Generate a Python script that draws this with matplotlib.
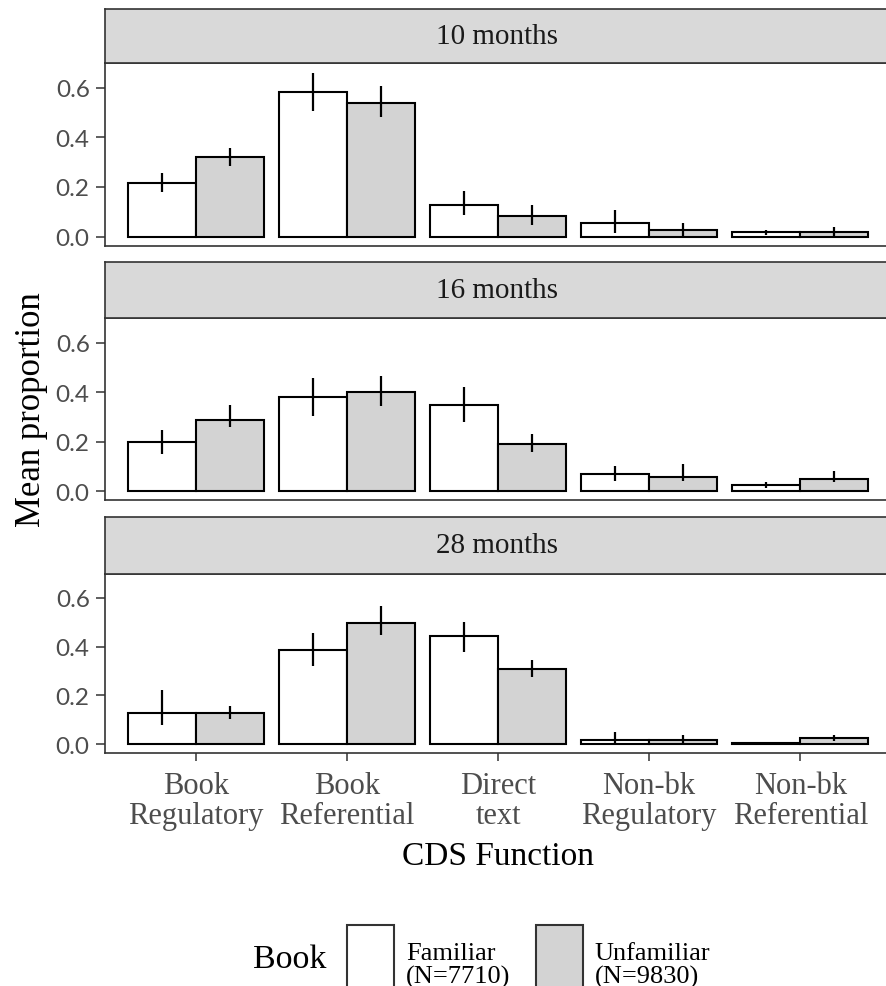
import matplotlib
matplotlib.use("Agg")
import matplotlib.pyplot as plt
from matplotlib.patches import Patch
import numpy as np

# ---- data -------------------------------------------------------------
ages = ["10 months", "16 months", "28 months"]
functions = ["Book\nRegulatory", "Book\nReferential", "Direct\ntext",
             "Non-bk\nRegulatory", "Non-bk\nReferential"]
book_labels = ["Familiar\n(N=7710)", "Unfamiliar\n(N=9830)"]

familiar_mean = [
    [0.218, 0.585, 0.126, 0.054, 0.017],
    [0.199, 0.383, 0.347, 0.070, 0.024],
    [0.126, 0.388, 0.444, 0.017, 0.005],
]
familiar_lo = [
    [0.178, 0.508, 0.088, 0.013, 0.006],
    [0.149, 0.306, 0.279, 0.039, 0.011],
    [0.079, 0.322, 0.378, 0.000, 0.002],
]
familiar_hi = [
    [0.257, 0.660, 0.183, 0.109, 0.028],
    [0.247, 0.458, 0.422, 0.101, 0.038],
    [0.221, 0.456, 0.501, 0.049, 0.008],
]
unfamiliar_mean = [
    [0.319, 0.539, 0.082, 0.025, 0.017],
    [0.290, 0.400, 0.190, 0.059, 0.051],
    [0.126, 0.497, 0.308, 0.017, 0.027],
]
unfamiliar_lo = [
    [0.286, 0.481, 0.048, 0.000, 0.000],
    [0.259, 0.344, 0.160, 0.040, 0.038],
    [0.104, 0.449, 0.277, 0.000, 0.015],
]
unfamiliar_hi = [
    [0.358, 0.606, 0.129, 0.055, 0.037],
    [0.350, 0.468, 0.230, 0.109, 0.083],
    [0.157, 0.566, 0.347, 0.039, 0.039],
]
y_ticks = [0.0, 0.2, 0.4, 0.6]

# ---- style ------------------------------------------------------------
SERIF = ["Liberation Serif", "DejaVu Serif"]
SANS = ["Lato", "DejaVu Sans"]
plt.rcParams["font.family"] = SERIF
BORDER = "#333333"
STRIP_FILL = "#D9D9D9"
TICK_TEXT = "#4D4D4D"
FILLS = ["white", "#D3D3D3"]

W, H = 886, 987
fig = plt.figure(figsize=(W / 100, H / 100), dpi=100)


def fx(px):
    return px / W


def fy(px):
    return 1 - px / H


left_px, right_px = 105, 891
panels_px = [(10, 64, 246.5), (263, 319.3, 501), (518, 574.5, 754)]

x = np.arange(len(functions))
width = 0.45
series = [
    (familiar_mean, familiar_lo, familiar_hi),
    (unfamiliar_mean, unfamiliar_lo, unfamiliar_hi),
]

handles = []
for p, (strip_top, plot_top, plot_bot) in enumerate(panels_px):
    ax = fig.add_axes([fx(left_px), fy(plot_bot), fx(right_px - left_px),
                       (plot_bot - plot_top) / H])
    for s, (mean, lo, hi) in enumerate(series):
        xs = x + (s - 0.5) * width
        m = np.array(mean[p])
        ax.bar(xs, m, width=width, color=FILLS[s], edgecolor="black",
               linewidth=1.5, zorder=2)
        if p == 0:
            handles.append(Patch(facecolor=FILLS[s], edgecolor="#333333",
                                 linewidth=1.5))
        ax.vlines(xs, lo[p], hi[p], color="black", linewidth=1.6, zorder=3)
    ax.set_xlim(-0.6, len(functions) - 0.4)
    ax.set_ylim(-0.036, 0.70)
    ax.set_yticks(y_ticks)
    ax.set_yticklabels([f"{v:.1f}" for v in y_ticks], family=SANS,
                       fontsize=17.5, color=TICK_TEXT)
    ax.set_xticks(x)
    if p == len(panels_px) - 1:
        ax.set_xticklabels(functions, fontsize=22, color=TICK_TEXT,
                           linespacing=1.05)
        ax.tick_params(axis="x", length=6, width=1.1, color=BORDER, pad=7)
    else:
        ax.set_xticklabels([])
        ax.tick_params(axis="x", length=0)
    ax.tick_params(axis="y", length=6.5, width=1.1, color=BORDER, pad=4.5)
    for sp in ax.spines.values():
        sp.set_color(BORDER)
        sp.set_linewidth(1.2)

    # facet strip
    sax = fig.add_axes([fx(left_px), fy(plot_top), fx(right_px - left_px),
                        (plot_top - strip_top) / H])
    sax.set_facecolor(STRIP_FILL)
    sax.set_xticks([])
    sax.set_yticks([])
    for sp in sax.spines.values():
        sp.set_color(BORDER)
        sp.set_linewidth(1.2)
    sax.text(fx(497 - left_px) / fx(right_px - left_px), 0.5, ages[p],
             transform=sax.transAxes, ha="center", va="center",
             fontsize=21, color="#1A1A1A")

fig.text(fx(498), fy(857), "CDS Function", ha="center", va="center",
         fontsize=24, color="black")
fig.text(fx(32), fy(410), "Mean proportion", ha="center", va="center",
         rotation=90, fontsize=25, color="black")

# legend (the key boxes run past the bottom edge of the figure)
fig.text(fx(253), fy(968), "Book", ha="left", va="baseline",
         fontsize=24.5, color="black")
leg = fig.legend(handles, book_labels, ncol=2, frameon=False,
                 loc="upper left", bbox_to_anchor=(fx(339), fy(918)),
                 fontsize=19, handlelength=1.77, handleheight=4.5,
                 handletextpad=0.46, columnspacing=0.98, borderpad=0.3,
                 borderaxespad=0)
for t in leg.get_texts():
    t.set_linespacing(1.02)

fig.savefig("out.png", dpi=100)
